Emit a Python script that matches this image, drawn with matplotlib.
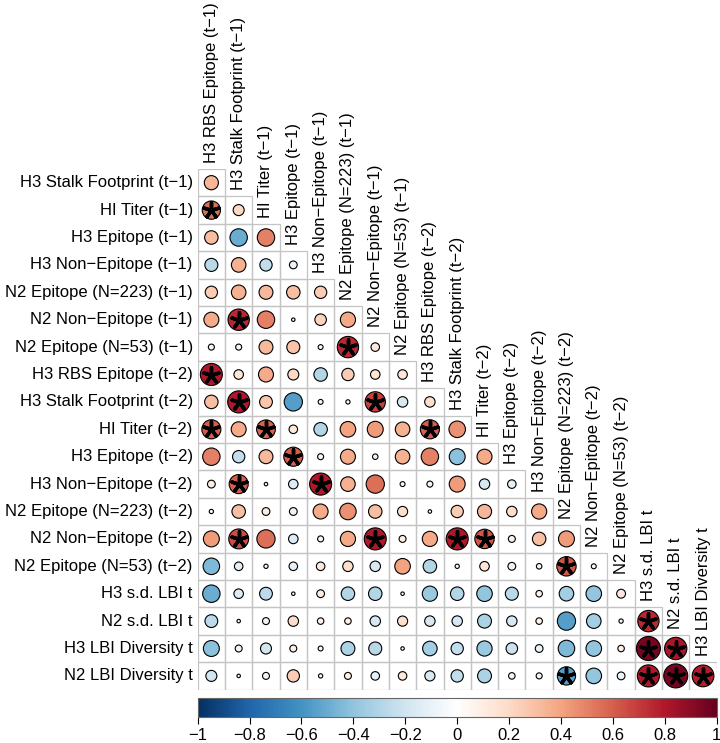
import numpy as np
import matplotlib
matplotlib.use("Agg")
import matplotlib.pyplot as plt
from matplotlib.colors import LinearSegmentedColormap, Normalize
from matplotlib.cm import ScalarMappable
from matplotlib.patches import Circle, Rectangle

plt.rcParams['font.family'] = ['Liberation Sans', 'DejaVu Sans']

labels = [
    "H3 RBS Epitope (t\u22121)", "H3 Stalk Footprint (t\u22121)", "HI Titer (t\u22121)",
    "H3 Epitope (t\u22121)", "H3 Non\u2212Epitope (t\u22121)", "N2 Epitope (N=223) (t\u22121)",
    "N2 Non\u2212Epitope (t\u22121)", "N2 Epitope (N=53) (t\u22121)",
    "H3 RBS Epitope (t\u22122)", "H3 Stalk Footprint (t\u22122)", "HI Titer (t\u22122)",
    "H3 Epitope (t\u22122)", "H3 Non\u2212Epitope (t\u22122)", "N2 Epitope (N=223) (t\u22122)",
    "N2 Non\u2212Epitope (t\u22122)", "N2 Epitope (N=53) (t\u22122)",
    "H3 s.d. LBI t", "N2 s.d. LBI t", "H3 LBI Diversity t", "N2 LBI Diversity t",
]

# lower triangle: row i holds the correlations of variable i with variables 0..i-1
corr_rows = [
    [0.33],
    [0.55, 0.2],
    [0.3, -0.5, 0.5],
    [-0.28, 0.35, -0.25, -0.1],
    [0.25, 0.35, 0.32, 0.3, 0.25],
    [0.37, 0.75, 0.5, 0.02, 0.22, 0.38],
    [0.06, 0.06, 0.32, 0.28, 0.04, 0.75, 0.12],
    [0.8, 0.15, 0.37, 0.2, -0.3, 0.25, 0.15, 0.15],
    [0.3, 0.8, 0.27, -0.55, 0.04, 0.03, 0.68, -0.18, 0.18],
    [0.6, 0.37, 0.58, 0.12, -0.3, 0.4, 0.42, 0.35, 0.6, 0.45],
    [0.5, -0.25, 0.32, 0.6, 0.06, 0.37, 0.05, 0.35, 0.5, -0.42, 0.37],
    [0.1, 0.6, 0.02, -0.15, 0.8, 0.35, 0.55, 0.04, 0.06, 0.42, -0.18, -0.12],
    [0.03, 0.3, 0.1, -0.1, 0.37, 0.45, 0.3, 0.17, 0.02, 0.25, 0.33, 0.18, 0.38],
    [0.42, 0.65, 0.55, -0.15, 0.06, 0.38, 0.8, 0.08, 0.38, 0.8, 0.62, 0.08, 0.3, 0.42],
    [-0.45, -0.12, 0.03, -0.12, 0.12, 0.18, -0.18, 0.4, -0.3, 0.03, 0.15, -0.1, 0.05, 0.62, 0.04],
    [-0.5, -0.15, -0.27, 0.02, 0.1, -0.3, -0.3, 0.02, -0.38, -0.3, -0.4, -0.28, 0.07, -0.35, -0.4, 0.13],
    [-0.27, 0.02, -0.08, 0.18, 0.07, 0.07, -0.18, 0.17, -0.18, -0.18, -0.32, -0.18, 0.07, -0.55, -0.35, 0.03, 0.75],
    [-0.42, -0.08, -0.2, 0.08, 0.04, -0.32, -0.28, 0.02, -0.35, -0.25, -0.38, -0.22, -0.1, -0.45, -0.4, 0.07, 0.95, 0.82],
    [-0.2, 0.02, -0.08, 0.25, 0.03, 0.08, -0.12, 0.12, -0.17, -0.25, -0.32, 0.07, 0.06, -0.55, -0.4, -0.1, 0.8, 0.95, 0.78],
]

# (row variable, column variable) pairs marked as significant
signif = [(2, 0), (6, 1), (7, 5), (8, 0), (9, 1), (9, 6), (10, 0), (10, 2), (10, 8),
          (11, 3), (12, 1), (12, 4), (14, 1), (14, 6), (14, 9), (14, 10), (15, 13),
          (17, 16), (18, 16), (18, 17), (19, 13), (19, 16), (19, 17), (19, 18)]

cbar_ticks = [-1, -0.8, -0.6, -0.4, -0.2, 0, 0.2, 0.4, 0.6, 0.8, 1]

col2 = ["#053061", "#2166AC", "#4393C3", "#92C5DE", "#D1E5F0", "#FFFFFF",
        "#FDDBC7", "#F4A582", "#D6604D", "#B2182B", "#67001F"]
cmap = LinearSegmentedColormap.from_list("corr_rdbu", col2, N=200)
norm = Normalize(-1, 1)

W, H = 720, 743
fig = plt.figure(figsize=(W / 100, H / 100), dpi=100)
n = len(labels)

ax = fig.add_axes([197.7 / W, 1 - 689.6 / H, 519 / W, 520.6 / H])
ax.set_xlim(-0.5, n - 1.5)
ax.set_ylim(n - 0.5, 0.5)
ax.axis('off')

for i, row in enumerate(corr_rows, start=1):
    for j, r in enumerate(row):
        ax.add_patch(Rectangle((j - 0.5, i - 0.5), 1, 1, fill=False,
                               ec='#c4c4c4', lw=0.9, zorder=1))
        ax.add_patch(Circle((j, i), 0.45 * np.sqrt(abs(r)), fc=cmap(norm(r)),
                            ec='black', lw=0.8, zorder=2))

sx = [j for i, j in signif]
sy = [i for i, j in signif]
ax.scatter(sx, sy, marker=(5, 2, 0), s=125, c='black', linewidths=2.5, zorder=4)

# row labels on the left, column labels on the diagonal
for i in range(1, n):
    ax.text(-0.68, i, labels[i], ha='right', va='center', fontsize=12)
for j in range(n - 1):
    ax.text(j, j + 0.28, labels[j], rotation=90, ha='center', va='bottom',
            fontsize=12, clip_on=False)

cax = fig.add_axes([197.7 / W, 1 - 717 / H, 519 / W, 19.5 / H])
cb = fig.colorbar(ScalarMappable(norm=norm, cmap=cmap), cax=cax, orientation='horizontal')
cb.set_ticks(cbar_ticks)
cb.set_ticklabels([f"{t:g}".replace('-', '\u2212') for t in cbar_ticks])
cb.outline.set_edgecolor('#666666')
cb.outline.set_linewidth(0.8)
cax.tick_params(length=5, width=0.8, labelsize=12, pad=3)

fig.savefig('out.png', dpi=100)
